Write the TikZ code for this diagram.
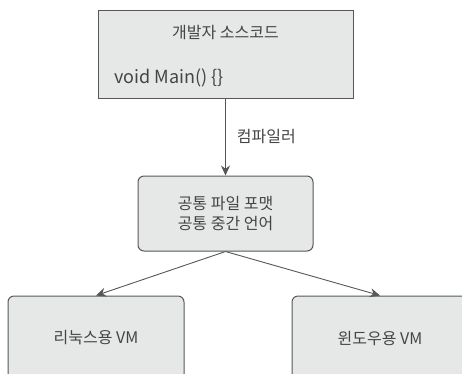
\documentclass[tikz,border=0pt]{standalone}
\usepackage{fontspec}
\setmainfont{Noto Sans CJK KR}
\usetikzlibrary{arrows.meta}

\definecolor{boxfill}{HTML}{E6E7E7}
\definecolor{boxline}{HTML}{575757}
\definecolor{txt}{HTML}{444444}

\tikzset{
    box/.style={draw=boxline, fill=boxfill, line width=1pt, text=txt, inner sep=0pt},
    roundbox/.style={box, rounded corners=6pt},
    label/.style={text=txt, inner sep=0pt, font=\fontsize{16}{20}\selectfont},
    flow/.style={draw=boxline, line width=0.9pt, -{Stealth[length=10pt, width=9pt]}}
}

\begin{document}
\begin{tikzpicture}[x=1pt, y=-1pt]
    % --- 1. 畫布範圍 ---
    \clip (0,0) rectangle (462,373);
    \def\wBot{176}

    % --- 2. 開發者原始碼方框 ---
    \node[box, minimum width=255pt, minimum height=88pt] (src) at (225.5,54) {};
    \node[label] (srctitle) at (225.5,33) {개발자 소스코드};
    \node[label, anchor=west, font=\fontsize{18}{20}\selectfont] (srccode) at (114,78) {void Main() \{\}};

    % --- 3. 共通中間語言 ---
    \node[roundbox, label, minimum width=175pt, minimum height=75pt, align=center] (il)
        at (225.5,213.5) {공통 파일 포맷\\공통 중간 언어};

    % --- 4. 兩個 VM ---
    \node[roundbox, label, minimum width=\wBot pt, minimum height=84pt] (linux) at (96,338) {리눅스용 VM};
    \node[roundbox, label, minimum width=\wBot pt, minimum height=84pt] (win) at (380,338) {윈도우용 VM};

    % --- 5. 連線與標籤 ---
    \draw[flow] (src.south) -- (il.north)
        node[label, midway, right=11pt] (compiler) {컴파일러};
    \draw[flow] (il.south) -- (linux.north);
    \draw[flow] (il.south) -- (win.north);
\end{tikzpicture}
\end{document}
